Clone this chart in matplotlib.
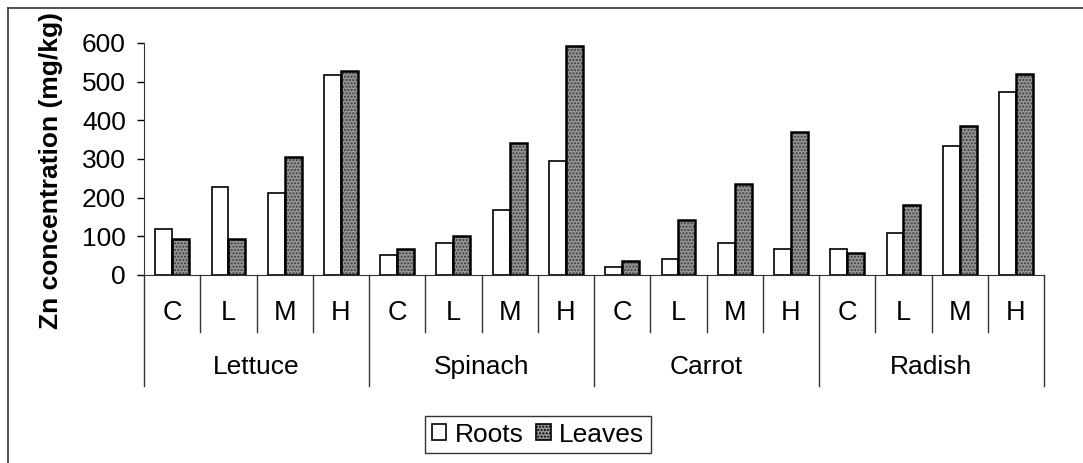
import numpy as np
import matplotlib
matplotlib.use('Agg')
import matplotlib.pyplot as plt
from matplotlib.lines import Line2D
from matplotlib.patches import Patch

plt.rcParams['font.family'] = ['Liberation Sans', 'DejaVu Sans']

crops = ['Lettuce', 'Spinach', 'Carrot', 'Radish']
levels = ['C', 'L', 'M', 'H']

# Zn in mg/kg, ordered crop by crop, C/L/M/H within each crop
roots = [119, 227, 212, 518,
         51, 82, 169, 294,
         21, 41, 83, 68,
         68, 109, 333, 473]
leaves = [94, 92, 306, 528,
          67, 102, 342, 592,
          36, 141, 235, 371,
          58, 182, 385, 521]
yticks = [0, 100, 200, 300, 400, 500, 600]

W, H = 1083, 463
fig = plt.figure(figsize=(W / 100, H / 100), dpi=100)
ax = fig.add_axes([144 / W, 1 - 275 / H, 900 / W, 232 / H])

x = np.arange(len(roots))
bw = 0.3
ax.bar(x - bw / 2, roots, bw, color='white', edgecolor='black', linewidth=1.2, zorder=3)
# stippled grey for leaves: hatch layer, then a black outline on top
ax.bar(x + bw / 2, leaves, bw, color='#959595', edgecolor='#3a3a3a', hatch='.....',
       linewidth=0, zorder=3)
ax.bar(x + bw / 2, leaves, bw, fill=False, edgecolor='black', linewidth=1.8, zorder=4)

ax.set_xlim(-0.5, len(roots) - 0.5)
ax.set_ylim(0, 600)
ax.set_yticks(yticks)
ax.tick_params(axis='y', direction='out', length=5, width=1, pad=8, labelsize=19)
ax.set_xticks([])
for s in ['top', 'right']:
    ax.spines[s].set_visible(False)
ax.spines['left'].set_color('#333333')
ax.spines['bottom'].set_color('#333333')
ax.set_ylabel('Zn concentration (mg/kg)', fontsize=19, fontweight='bold')
ax.yaxis.set_label_coords(-0.09, 0.45)

# two-level category axis drawn below the plot
tr = ax.get_xaxis_transform()
for i in range(len(roots) + 1):
    b = i - 0.5
    y0 = -0.478 if i % 4 == 0 else -0.246
    ax.plot([b, b], [0, y0], color='#333333', lw=1, transform=tr, clip_on=False)
for i in range(len(roots)):
    ax.text(i, -0.164, levels[i % 4], transform=tr, ha='center', va='center', fontsize=19.5)
for g, name in enumerate(crops):
    ax.text(g * 4 + 1.5, -0.397, name, transform=tr, ha='center', va='center', fontsize=19)

handles = [Patch(facecolor='white', edgecolor='black', linewidth=1.2),
           Patch(facecolor='#959595', edgecolor='black', hatch='.....', linewidth=1.2)]
leg = fig.legend(handles, ['Roots', 'Leaves'], loc='center', bbox_to_anchor=(538 / W, 1 - 434.5 / H),
                 ncol=2, fontsize=19, frameon=True, fancybox=False, handlelength=0.55,
                 handleheight=0.55, handletextpad=0.3, columnspacing=0.5, borderpad=0.25,
                 borderaxespad=0)
leg.get_frame().set_edgecolor('black')
leg.get_frame().set_linewidth(1)

# outer chart frame (left and top edges)
fig.add_artist(Line2D([8 / W, 8 / W], [0, 1 - 8 / H], color='#333333', lw=1.2))
fig.add_artist(Line2D([8 / W, 1], [1 - 8 / H, 1 - 8 / H], color='#333333', lw=1.2))

fig.savefig('out.png', dpi=100)
